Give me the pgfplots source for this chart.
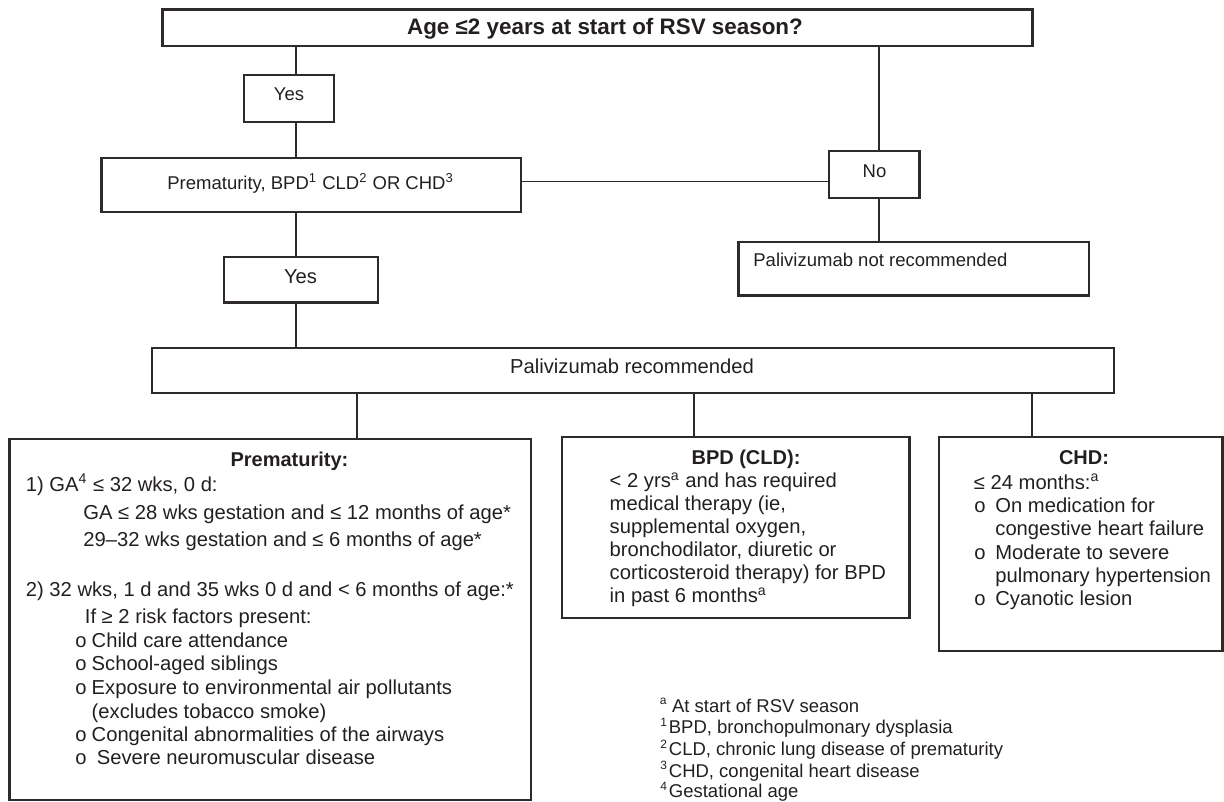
\documentclass[border=0pt]{standalone}
\usepackage{pgfplots}
\pgfplotsset{compat=1.18}
\usepackage{fontspec}
\setmainfont{Liberation Sans}
\newcommand{\fs}{\fontsize{9.25bp}{11bp}\selectfont}
\newcommand{\fm}{\fontsize{10.1bp}{12bp}\selectfont}
\newcommand{\fb}{\fontsize{10bp}{12bp}\selectfont\bfseries}
\newcommand{\ft}{\fontsize{11.2bp}{13bp}\selectfont\bfseries}
\newcommand{\fsup}{\fontsize{6bp}{7bp}\selectfont}
\definecolor{ink}{HTML}{231F20}
\tikzset{
  box/.style={draw=ink!95, line width=1.05bp, mark=none, line join=miter},
  conn/.style={draw=ink!95, line width=0.9bp, mark=none},
  txt/.style={inner sep=0pt, text height=0.66em, text depth=0pt, text=ink}}
\begin{document}
\begin{tikzpicture}
\begin{axis}[name=ax, width=612bp, height=401bp, scale only axis,
  xmin=0, xmax=1224, ymin=0, ymax=802, y dir=reverse, hide axis, clip=false]
% ---- boxes ----
\addplot[box] coordinates {(162.5,9.5) (1032.5,9.5) (1032.5,46) (162.5,46)} -- cycle;
\addplot[box] coordinates {(244,75.3) (334,75.3) (334,121.7) (244,121.7)} -- cycle;
\addplot[box] coordinates {(101.5,157.7) (521,157.7) (521,211.7) (101.5,211.7)} -- cycle;
\addplot[box] coordinates {(829,150.7) (919.5,150.7) (919.5,198) (829,198)} -- cycle;
\addplot[box] coordinates {(738.5,242) (1089,242) (1089,295.5) (738.5,295.5)} -- cycle;
\addplot[box] coordinates {(223.8,256.7) (377.7,256.7) (377.7,302.5) (223.8,302.5)} -- cycle;
\addplot[box] coordinates {(152.3,347.7) (1113.6,347.7) (1113.6,393) (152.3,393)} -- cycle;
\addplot[box] coordinates {(9.5,438.7) (531,438.7) (531,800) (9.5,800)} -- cycle;
\addplot[box] coordinates {(561.7,436.9) (909.5,436.9) (909.5,617.8) (561.7,617.8)} -- cycle;
\addplot[box] coordinates {(939,437) (1222.5,437) (1222.5,651) (939,651)} -- cycle;
% ---- connectors ----
\addplot[conn] coordinates {(295.6,46) (295.6,75.3)};
\addplot[conn] coordinates {(295.6,121.7) (295.6,157.7)};
\addplot[conn] coordinates {(878.6,46) (878.6,150.7)};
\addplot[conn] coordinates {(521,181.5) (829,181.5)};
\addplot[conn] coordinates {(878.6,198) (878.6,242)};
\addplot[conn] coordinates {(295.8,211.7) (295.8,256.7)};
\addplot[conn] coordinates {(295.8,302.5) (295.8,347.7)};
\addplot[conn] coordinates {(357.2,393) (357.2,438.7)};
\addplot[conn] coordinates {(694,393) (694,436.9)};
\addplot[conn] coordinates {(1031.7,393) (1031.7,437)};
% ---- texts: upper part ----
\node[txt, font=\ft] at (axis cs:605,27.5) {Age ≤2 years at start of RSV season?};
\node[txt, font=\fs] at (axis cs:289,94.3) {Yes};
\node[txt, font=\fs, anchor=west] at (axis cs:167,183.3) {Prematurity, BPD\textsuperscript{1} CLD\textsuperscript{2} OR CHD\textsuperscript{3}};
\node[txt, font=\fs] at (axis cs:874.5,170.7) {No};
\node[txt, font=\fs, anchor=west] at (axis cs:753,260) {Palivizumab not recommended};
\node[txt, font=\fm] at (axis cs:300.5,277.3) {Yes};
\node[txt, font=\fm] at (axis cs:632,367) {Palivizumab recommended};
% ---- Prematurity box ----
\node[txt, font=\fb] at (axis cs:289.5,459.5) {Prematurity:};
\node[txt, font=\fm, anchor=west] at (axis cs:25.5,484.5) {1) GA\textsuperscript{4} ≤ 32 wks, 0 d:};
\node[txt, font=\fm, anchor=west] at (axis cs:83,512.5) {GA ≤ 28 wks gestation and ≤ 12 months of age*};
\node[txt, font=\fm, anchor=west] at (axis cs:83,540) {29–32 wks gestation and ≤ 6 months of age*};
\node[txt, font=\fm, anchor=west] at (axis cs:25.5,589.5) {2) 32 wks, 1 d and 35 wks 0 d and < 6 months of age:*};
\node[txt, font=\fm, anchor=west] at (axis cs:84.5,616.5) {If ≥ 2 risk factors present:};
\node[txt, font=\fm, anchor=west] at (axis cs:75,641) {o};
\node[txt, font=\fm, anchor=west] at (axis cs:91.3,641) {Child care attendance};
\node[txt, font=\fm, anchor=west] at (axis cs:75,664) {o};
\node[txt, font=\fm, anchor=west] at (axis cs:91.3,664) {School-aged siblings};
\node[txt, font=\fm, anchor=west] at (axis cs:75,688) {o};
\node[txt, font=\fm, anchor=west] at (axis cs:91.3,688) {Exposure to environmental air pollutants};
\node[txt, font=\fm, anchor=west] at (axis cs:91.3,712) {(excludes tobacco smoke)};
\node[txt, font=\fm, anchor=west] at (axis cs:75,735) {o};
\node[txt, font=\fm, anchor=west] at (axis cs:91.3,735) {Congenital abnormalities of the airways};
\node[txt, font=\fm, anchor=west] at (axis cs:75,758.3) {o};
\node[txt, font=\fm, anchor=west] at (axis cs:96.4,758.3) {Severe neuromuscular disease};
% ---- BPD box ----
\node[txt, font=\fb] at (axis cs:746,457.5) {BPD (CLD):};
\node[txt, font=\fm, anchor=west] at (axis cs:609.3,481) {< 2 yrs\textsuperscript{a} and has required};
\node[txt, font=\fm, anchor=west] at (axis cs:609.3,504) {medical therapy (ie,};
\node[txt, font=\fm, anchor=west] at (axis cs:609.3,527) {supplemental oxygen,};
\node[txt, font=\fm, anchor=west] at (axis cs:609.3,550) {bronchodilator, diuretic or};
\node[txt, font=\fm, anchor=west] at (axis cs:609.3,573) {corticosteroid therapy) for BPD};
\node[txt, font=\fm, anchor=west] at (axis cs:609.3,596) {in past 6 months\textsuperscript{a}};
% ---- CHD box ----
\node[txt, font=\fb] at (axis cs:1084,457.5) {CHD:};
\node[txt, font=\fm, anchor=west] at (axis cs:973.5,482.5) {≤ 24 months:\textsuperscript{a}};
\node[txt, font=\fm, anchor=west] at (axis cs:974,505.5) {o};
\node[txt, font=\fm, anchor=west] at (axis cs:995,505.5) {On medication for};
\node[txt, font=\fm, anchor=west] at (axis cs:995,529.3) {congestive heart failure};
\node[txt, font=\fm, anchor=west] at (axis cs:974,552.5) {o};
\node[txt, font=\fm, anchor=west] at (axis cs:995,552.5) {Moderate to severe};
\node[txt, font=\fm, anchor=west] at (axis cs:995,576.3) {pulmonary hypertension};
\node[txt, font=\fm, anchor=west] at (axis cs:974,599.3) {o};
\node[txt, font=\fm, anchor=west] at (axis cs:995,599.3) {Cyanotic lesion};
% ---- footnotes ----
\node[txt, font=\fsup, anchor=west] at (axis cs:659.5,697.5) {a};
\node[txt, font=\fs, anchor=west] at (axis cs:671.7,705.5) {At start of RSV season};
\node[txt, font=\fsup, anchor=west] at (axis cs:660,719.5) {1};
\node[txt, font=\fs, anchor=west] at (axis cs:668.5,726.5) {BPD, bronchopulmonary dysplasia};
\node[txt, font=\fsup, anchor=west] at (axis cs:660,741.5) {2};
\node[txt, font=\fs, anchor=west] at (axis cs:668.5,748.5) {CLD, chronic lung disease of prematurity};
\node[txt, font=\fsup, anchor=west] at (axis cs:660,763) {3};
\node[txt, font=\fs, anchor=west] at (axis cs:668.5,770.5) {CHD, congenital heart disease};
\node[txt, font=\fsup, anchor=west] at (axis cs:660,784) {4};
\node[txt, font=\fs, anchor=west] at (axis cs:668.5,790.7) {Gestational age};
\end{axis}
\pgfresetboundingbox
\path (ax.south west) rectangle (ax.north east);
\end{tikzpicture}
\end{document}
